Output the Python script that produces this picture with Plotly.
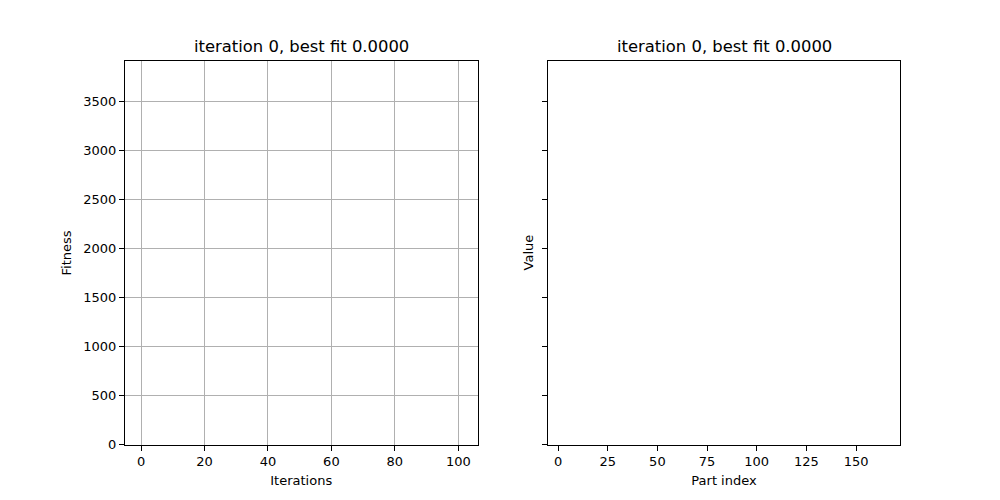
import plotly.graph_objects as go

# Data (chart shows the initial, empty state)
iterations = []
fitness = []
part_index = []
values = []

title_text = "iteration 0, best fit 0.0000"
left_xticks = [0, 20, 40, 60, 80, 100]
right_xticks = [0, 25, 50, 75, 100, 125, 150]
yticks = [0, 500, 1000, 1500, 2000, 2500, 3000, 3500]

FONT = "DejaVu Sans"
OFF = 8  # page body margin in px
W, H = 1000 - 2 * OFF, 500 - 2 * OFF
VOFF, VS = 6.7, 0.987  # observed vertical mapping of the page photo


def px_x(p):
    return (p - OFF) / W


def px_y(p):
    return 1 - ((p - VOFF) / VS) / H


LX = [px_x(125), px_x(477.5)]
RX = [px_x(548), px_x(900)]
YD = [px_y(445), px_y(60)]

fig = go.Figure()
fig.add_trace(go.Scatter(x=iterations, y=fitness, mode="lines", xaxis="x", yaxis="y",
                         line=dict(color="#1f77b4"), showlegend=False))
fig.add_trace(go.Scatter(x=part_index, y=values, mode="lines", xaxis="x2", yaxis="y2",
                         line=dict(color="#1f77b4"), showlegend=False))

axis_common = dict(showline=True, linecolor="black", linewidth=1, mirror=True,
                   ticks="outside", ticklen=5, tickwidth=1, tickcolor="black",
                   zeroline=False, tickfont=dict(family=FONT, size=13, color="black"))

fig.update_layout(
    width=W, height=H,
    margin=dict(l=0, r=0, t=0, b=0),
    paper_bgcolor="white", plot_bgcolor="white",
    font=dict(family=FONT, size=13, color="black"),
    xaxis=dict(domain=LX, range=[-5.05, 106.05], tickvals=left_xticks,
               showgrid=True, gridcolor="#b0b0b0", gridwidth=1,
               title=dict(text="Iterations", standoff=7, font=dict(size=13)), anchor="y", **axis_common),
    yaxis=dict(domain=YD, range=[0, 3910], tickvals=yticks,
               showgrid=True, gridcolor="#b0b0b0", gridwidth=1,
               title=dict(text="Fitness", standoff=8, font=dict(size=13)), anchor="x", **axis_common),
    xaxis2=dict(domain=RX, range=[-5.04, 172.1], tickvals=right_xticks,
                showgrid=False, title=dict(text="Part index", standoff=7, font=dict(size=13)),
                anchor="y2", **axis_common),
    yaxis2=dict(domain=YD, range=[0, 3910], tickvals=yticks, showticklabels=False,
                showgrid=False, anchor="x2", **axis_common),
    annotations=[
        dict(text=title_text, x=sum(LX) / 2, y=YD[1], xref="paper", yref="paper",
             xanchor="center", yanchor="bottom", yshift=3, showarrow=False,
             font=dict(family=FONT, size=16.4, color="black")),
        dict(text=title_text, x=sum(RX) / 2, y=YD[1], xref="paper", yref="paper",
             xanchor="center", yanchor="bottom", yshift=3, showarrow=False,
             font=dict(family=FONT, size=16.4, color="black")),
        dict(text="Value", x=RX[0], y=sum(YD) / 2, xref="paper", yref="paper",
             xanchor="right", yanchor="middle", xshift=-10, textangle=-90, showarrow=False,
             font=dict(family=FONT, size=13, color="black")),
    ],
)

fig.write_html("out.html")
